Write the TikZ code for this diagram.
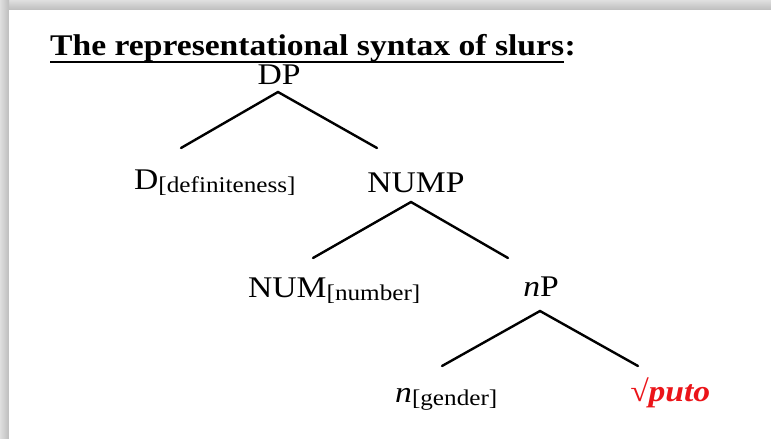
\documentclass[tikz,border=0pt]{standalone}
\usepackage{fontspec}
\setmainfont{Liberation Serif}[FakeStretch=1.12]
\usetikzlibrary{calc}

\tikzset{
  lbl/.style={inner sep=0pt, anchor=base, font=\fontsize{30}{33}\selectfont},
  branch/.style={line width=2.4pt, line cap=round},
  slur/.style={lbl, text={rgb,255:red,235;green,20;blue,25}, font=\fontsize{30}{33}\selectfont\bfseries\itshape},
}
\newcommand{\feat}[1]{\raisebox{-3pt}{\fontsize{22.5}{25}\selectfont[#1]}}

\begin{document}
\begin{tikzpicture}[x=1pt, y=-1pt]
  % page area and the soft shadow along its top and left edges
  \useasboundingbox (0,0) rectangle (771,439);
  \fill[white] (0,0) rectangle (771,439);
  \shade[top color=gray!25, bottom color=gray!52] (0,0) rectangle (771,10);
  \shade[left color=gray!25, right color=gray!52] (0,0) rectangle (9,439);
  \fill[white] (9,10) rectangle (771,439);

  % heading
  \node[inner sep=0pt, anchor=base west, font=\fontsize{30}{34}\selectfont\bfseries]
    (title) at (50,55) {The representational syntax of slurs};
  \node[inner sep=0pt, anchor=base west, font=\fontsize{30}{34}\selectfont\bfseries]
    (colon) at (title.base east) {:};
  \draw[line width=1.8pt] ([yshift=-7pt]title.base west) -- ([yshift=-7pt]title.base east);

  % tree labels
  \node[lbl] (dp) at (279,84) {DP};
  \node[lbl, anchor=base west] (d) at (134,189) {D\feat{definiteness}};
  \node[lbl] (nump) at (416,192) {NUMP};
  \node[lbl, anchor=base west] (num) at (248,297) {NUM\feat{number}};
  \node[lbl] (np) at (541,296) {\textit{n}P};
  \node[lbl, anchor=base west] (n) at (395,402) {\textit{n}\feat{gender}};
  \node[slur, anchor=base west] (root) at (630,401) {√puto};

  % branching points
  \coordinate (dp-top) at (278,92);
  \coordinate (dp-l) at (181,148);
  \coordinate (dp-r) at (377,148);
  \coordinate (nump-top) at (411,202);
  \coordinate (nump-l) at (313,258);
  \coordinate (nump-r) at (508,258);
  \coordinate (np-top) at (540,311);
  \coordinate (np-l) at (442,366);
  \coordinate (np-r) at (638,366);

  % branches
  \draw[branch] (dp-l) -- (dp-top) -- (dp-r);
  \draw[branch] (nump-l) -- (nump-top) -- (nump-r);
  \draw[branch] (np-l) -- (np-top) -- (np-r);
\end{tikzpicture}
\end{document}
